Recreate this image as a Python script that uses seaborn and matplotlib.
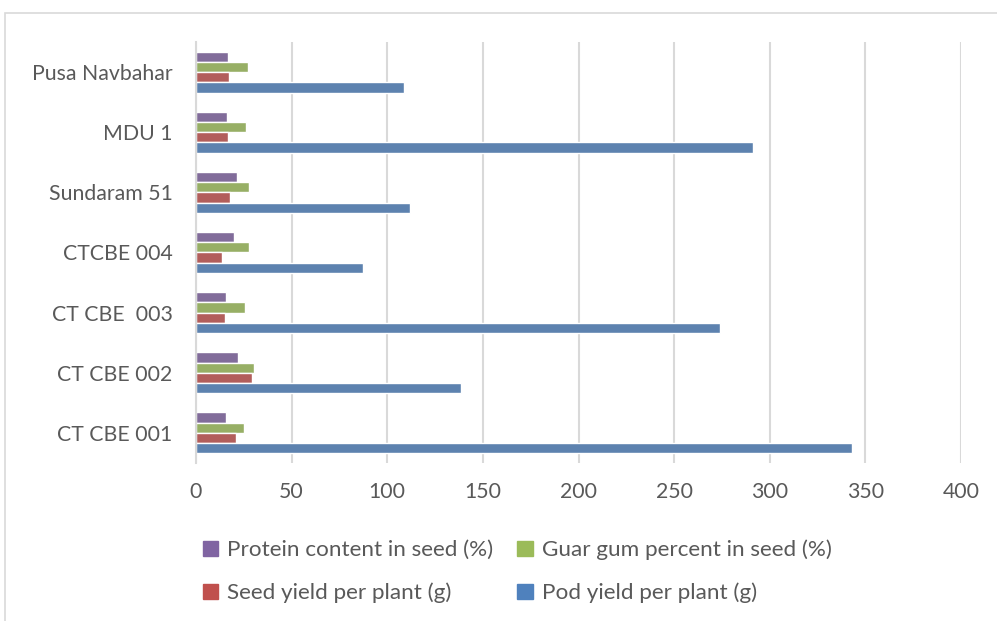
import pandas as pd
import matplotlib.pyplot as plt
import seaborn as sns
from matplotlib.patches import Patch, Rectangle

# Values
varieties = ["Pusa Navbahar", "MDU 1", "Sundaram 51", "CTCBE 004",
             "CT CBE  003", "CT CBE 002", "CT CBE 001"]
protein = [16.9, 16.4, 21.4, 19.9, 15.9, 21.8, 15.5]
guar = [27.0, 26.3, 27.7, 27.5, 25.5, 30.2, 24.9]
seed = [17.1, 16.9, 17.6, 13.6, 15.2, 29.3, 21.1]
pod = [108.9, 291.1, 111.8, 87.3, 273.9, 138.8, 343.1]

series = ["Protein content in seed (%)", "Guar gum percent in seed (%)",
          "Seed yield per plant (g)", "Pod yield per plant (g)"]
colors = ["#8064A2", "#9BBB59", "#C0504D", "#4F81BD"]
x_ticks = [0, 50, 100, 150, 200, 250, 300, 350, 400]

df = pd.DataFrame({"variety": varieties, series[0]: protein, series[1]: guar,
                   series[2]: seed, series[3]: pod})
long_df = df.melt(id_vars="variety", var_name="measure", value_name="value")

sns.set_style("white")
plt.rcParams["font.family"] = ["Lato", "DejaVu Sans"]
text_color = "#595959"

fig = plt.figure(figsize=(9.97, 6.21), dpi=100)
ax = fig.add_axes([0.1966, 0.2544, 0.7673, 0.678])

sns.barplot(data=long_df, y="variety", x="value", hue="measure",
            order=varieties, hue_order=series, palette=colors,
            orient="h", width=0.68, ax=ax, legend=False)

ax.set_xlim(0, 400)
ax.set_xticks(x_ticks)
ax.set_xlabel("")
ax.set_ylabel("")
ax.grid(axis="x", color="#d9d9d9", linewidth=1.5)
ax.set_axisbelow(True)
for side in ["top", "right", "bottom"]:
    ax.spines[side].set_visible(False)
ax.spines["left"].set_color("#d9d9d9")
ax.spines["left"].set_linewidth(1.5)
ax.tick_params(axis="x", length=0, pad=14, labelsize=15.3, labelcolor=text_color)
ax.tick_params(axis="y", length=0, pad=17, labelsize=15.3, labelcolor=text_color)

# legend: rows Protein/Guar then Seed/Pod (column-major fill)
handles = [Patch(color=colors[i], label=series[i]) for i in [0, 2, 1, 3]]
fig.legend(handles=handles, ncol=2, frameon=False, fontsize=16.2,
           labelcolor=text_color, loc="upper left",
           bbox_to_anchor=(0.183, 0.1635), handlelength=0.7,
           handleheight=0.7, handletextpad=0.4, columnspacing=1.05,
           labelspacing=1.0)

# outer chart border
fig.patches.append(Rectangle((5 / 997, -0.1), 1.2, 1 - 13 / 621 + 0.1,
                             transform=fig.transFigure, fill=False,
                             edgecolor="#d9d9d9", linewidth=1.2))

fig.savefig("out.png", dpi=100)
